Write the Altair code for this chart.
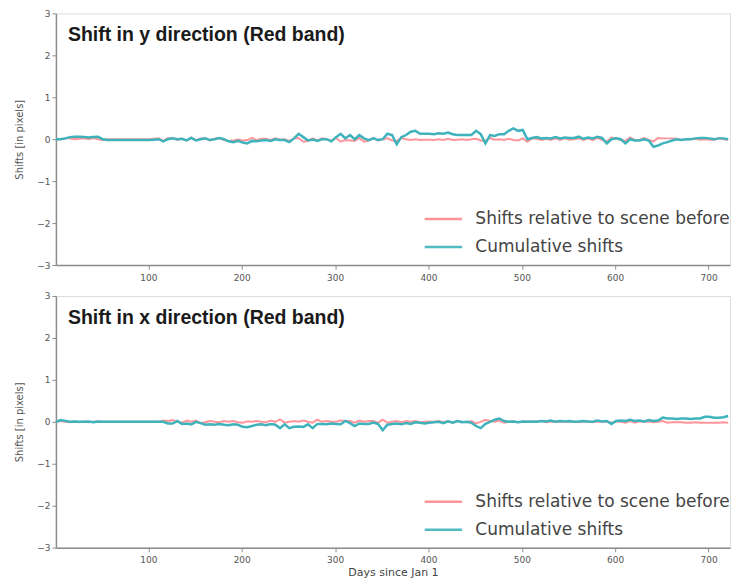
import altair as alt
import pandas as pd

days = list(range(1, 722, 5))

y_cum = [
    0, 0, 0.02, 0.05, 0.06, 0.06, 0.05, 0.04, 0.05, 0.06,
    0.0, -0.02, -0.02, -0.02, -0.02, -0.02, -0.02, -0.02, -0.02, -0.02,
    -0.02, -0.01, 0.0, -0.05, 0.0, 0.02, 0.0, 0.01, -0.03, 0.03,
    -0.03, 0.0, 0.02, -0.02, 0.0, 0.03, 0.0, -0.05, -0.07, -0.04,
    -0.08, -0.1, -0.04, -0.05, -0.03, -0.02, -0.04, 0.0, -0.02, -0.02,
    -0.07, 0.02, 0.13, 0.05, -0.03, -0.01, -0.04, 0.0, 0.0, -0.05,
    0.05, 0.13, 0.02, 0.1, 0.0, 0.1, 0.02, -0.02, 0.02, -0.02,
    0.0, 0.13, 0.1, -0.12, 0.05, 0.1, 0.18, 0.2, 0.13, 0.13,
    0.13, 0.12, 0.14, 0.13, 0.16, 0.12, 0.1, 0.1, 0.1, 0.1,
    0.2, 0.12, -0.1, 0.1, 0.08, 0.12, 0.12, 0.2, 0.26, 0.2,
    0.22, 0.0, 0.03, 0.05, 0.02, 0.03, 0.02, 0.05, 0.02, 0.04,
    0.03, 0.03, 0.06, 0.01, 0.04, 0.02, 0.06, 0.03, -0.1, 0.0,
    0.02, 0.0, -0.1, 0.0, -0.03, -0.03, 0.0, -0.03, -0.18, -0.15,
    -0.1, -0.07, -0.03, 0.0, -0.02, 0.0, 0.0, 0.02, 0.03, 0.03,
    0.02, 0.0, 0.02, 0.02, 0.0,
]

y_rel = [
    0, 0, 0.02, 0.02, 0.0, 0.01, 0.02, 0.0, 0.03, 0.0,
    -0.02, 0, 0, 0, 0, 0, 0, 0, 0, 0,
    0, 0.01, 0.02, -0.04, 0.03, 0.02, -0.02, 0.01, -0.03, 0.04,
    -0.03, 0.02, 0.02, -0.03, 0.01, 0.03, -0.02, -0.04, -0.03, -0.01,
    -0.03, -0.02, 0.03, -0.02, 0.01, 0.01, -0.02, 0.02, -0.01, 0.0,
    -0.04, 0.02, 0.03, -0.06, -0.04, 0.02, -0.03, 0.02, 0.0, -0.04,
    0.03, -0.06, -0.02, -0.03, -0.04, 0.03, -0.06, -0.03, 0.03, -0.03,
    0.0, 0.02, -0.03, -0.04, 0.03, 0.0, -0.02, 0.0, -0.02, -0.01,
    -0.01, -0.02, 0.0, -0.02, 0.01, -0.02, -0.01, 0.0, -0.02, 0.0,
    0.01, -0.03, -0.04, 0.03, -0.01, 0.0, -0.02, 0.01, -0.02, -0.03,
    0.02, -0.06, 0.02, 0.01, -0.02, 0.01, -0.02, 0.02, -0.02, 0.02,
    -0.01, 0.0, 0.02, -0.02, 0.02, -0.02, 0.03, -0.02, -0.06, 0.04,
    0.02, -0.02, -0.04, 0.04, -0.02, -0.02, 0.03, -0.02, -0.05, 0.03,
    0.02, 0.02, 0.02, 0.01, -0.02, 0.0, 0.0, 0.01, -0.01, 0.0,
    -0.01, -0.01, 0.02, 0.0, -0.01,
]

x_cum = [
    0, 0.04, 0.02, 0.0, 0.01, 0.0, 0.0, 0.01, -0.01, 0.01,
    0.0, 0.0, 0.0, 0.0, 0.0, 0.0, 0.0, 0.0, 0.0, 0.0,
    0.0, 0.0, 0.0, 0.0, -0.04, -0.04, 0.02, -0.05, -0.04, -0.06,
    0.0, -0.03, -0.07, -0.06, -0.07, -0.05, -0.07, -0.08, -0.06, -0.07,
    -0.12, -0.13, -0.1, -0.07, -0.06, -0.08, -0.05, -0.07, -0.15, -0.06,
    -0.15, -0.12, -0.11, -0.12, -0.06, -0.15, -0.05, -0.05, -0.06, -0.04,
    -0.05, -0.06, 0.02, -0.03, -0.1, -0.04, -0.05, -0.05, -0.02, -0.05,
    -0.2, -0.07, -0.05, -0.04, -0.06, -0.03, -0.05, -0.01, -0.02, -0.04,
    -0.02, -0.01, 0.0, -0.03, 0.01, -0.02, 0.02, -0.01, 0.0, -0.02,
    -0.1, -0.15, -0.05, 0.0, 0.05, 0.08, 0.02, 0.0, 0.01, -0.01,
    0.01, 0.0, 0.01, 0.0, 0.02, 0.01, 0.03, 0.0, 0.02, 0.01,
    0.02, 0.0, 0.01, 0.02, 0.01, 0.0, 0.03, 0.01, 0.02, -0.05,
    0.02, 0.03, 0.02, 0.05, 0.02, 0.03, 0.01, 0.04, 0.02, 0.03,
    0.1, 0.08, 0.08, 0.07, 0.08, 0.08, 0.07, 0.08, 0.08, 0.12,
    0.12, 0.1, 0.1, 0.11, 0.14,
]

x_rel = [
    0.0, 0.02, 0.0, -0.01, 0.01, -0.01, 0.01, -0.01, 0.0, 0.0,
    0.0, 0.0, 0.0, 0.0, 0.0, 0.0, 0.0, 0.0, 0.0, 0.0,
    0.0, 0.0, 0.0, 0.03, 0.02, 0.04, 0.0, -0.02, 0.03, 0.0,
    0.03, -0.03, -0.01, 0.02, 0.0, -0.01, 0.02, 0.0, 0.02, -0.01,
    -0.02, 0.01, 0.0, 0.02, 0.0, -0.01, 0.03, 0.0, 0.06, -0.02,
    0.0, 0.02, 0.0, 0.03, 0.0, -0.02, 0.05, 0.0, 0.02, 0.0,
    0.0, 0.03, 0.02, 0.02, -0.02, 0.03, 0.0, 0.02, 0.02, -0.02,
    0.05, -0.02, 0.0, 0.02, -0.01, 0.02, 0.0, 0.02, -0.01, 0.0,
    0.01, 0.0, 0.02, -0.01, 0.02, -0.02, 0.02, 0.0, -0.01, 0.02,
    -0.04, 0.0, 0.05, 0.02, 0.0, 0.03, -0.02, 0.0, 0.01, -0.01,
    0.0, 0.01, 0.0, 0.01, 0.02, -0.01, 0.01, 0.0, 0.01, 0.0,
    0.01, 0.0, -0.01, 0.01, 0.0, -0.01, 0.01, 0.0, 0.01, -0.02,
    0.01, 0.0, -0.02, 0.02, -0.02, 0.01, 0.0, 0.01, -0.01, 0.0,
    0.02, -0.02, -0.01, -0.01, -0.01, -0.02, -0.02, -0.01, -0.02, -0.02,
    -0.02, -0.02, -0.02, -0.01, -0.02,
]

series_names = ["Shifts relative to scene before", "Cumulative shifts"]
series_colors = ["#ff8a8f", "#3fb3bc"]
panel_titles = ["Shift in y direction (Red band)", "Shift in x direction (Red band)"]
x_ticks = [100, 200, 300, 400, 500, 600, 700]
y_ticks = [-3, -2, -1, 0, 1, 2, 3]

W, H = 675, 252
FRAME = "#8c8c8c"


def panel(rel, cum, title, show_xtitle):
    df = pd.DataFrame({
        "day": days * 2,
        "shift": rel + cum,
        "series": [series_names[0]] * len(days) + [series_names[1]] * len(days),
    })
    color = alt.Color(
        "series:N",
        scale=alt.Scale(domain=series_names, range=series_colors),
        sort=series_names,
        legend=alt.Legend(
            title=None, orient="none", legendX=368, legendY=186,
            symbolType="stroke", symbolSize=1400, symbolStrokeWidth=2.5,
            labelFontSize=17, labelColor="#444444", labelFont="DejaVu Sans",
            labelOffset=12, rowPadding=-13, labelLimit=300, padding=0,
        ),
    )
    xaxis = alt.Axis(
        values=x_ticks, grid=False, labelFontSize=9, labelColor="#555555",
        domainColor=FRAME, domainWidth=1.5, tickColor=FRAME, tickSize=4,
        title="Days since Jan 1" if show_xtitle else None,
        titleFontSize=11, titleFontWeight="normal", titleColor="#444444",
        titlePadding=2, labelPadding=4,
    )
    yaxis = alt.Axis(
        values=y_ticks, grid=False, labelFontSize=9, labelColor="#555555",
        domainColor=FRAME, domainWidth=1.5, tickColor=FRAME, tickSize=4,
        title="Shifts [in pixels]", titleFontSize=10, titleFontWeight="normal",
        titleColor="#555555", titlePadding=12, format="d",
    )
    x = alt.X("day:Q", scale=alt.Scale(domain=[1, 723], nice=False, zero=False), axis=xaxis)
    y = alt.Y("shift:Q", scale=alt.Scale(domain=[-3, 3], nice=False), axis=yaxis)

    red = alt.Chart(df).transform_filter(
        alt.datum.series == series_names[0]
    ).mark_line(strokeWidth=2, opacity=0.9).encode(x=x, y=y, color=color)
    teal = alt.Chart(df).transform_filter(
        alt.datum.series == series_names[1]
    ).mark_line(strokeWidth=2.5).encode(x=x, y=y, color=color)

    tdf = pd.DataFrame({"t": [title]})
    txt = alt.Chart(tdf).mark_text(
        align="left", baseline="middle", fontSize=19.5, fontWeight="bold",
        font="Liberation Sans", color="#1a1a1a",
    ).encode(text="t:N", x=alt.value(12), y=alt.value(22))

    return alt.layer(red, teal, txt).properties(width=W, height=H)


top = panel(y_rel, y_cum, panel_titles[0], False)
bottom = panel(x_rel, x_cum, panel_titles[1], True)

chart = alt.vconcat(top, bottom, spacing=8).resolve_legend(
    color="independent"
).resolve_scale(color="independent").configure_view(
    stroke=FRAME, strokeWidth=1.5
).configure(
    padding={"left": 6, "right": 0, "top": 0, "bottom": 0},
    font="DejaVu Sans",
)

chart.save("out.html", embed_options={"renderer": "svg", "actions": False})
